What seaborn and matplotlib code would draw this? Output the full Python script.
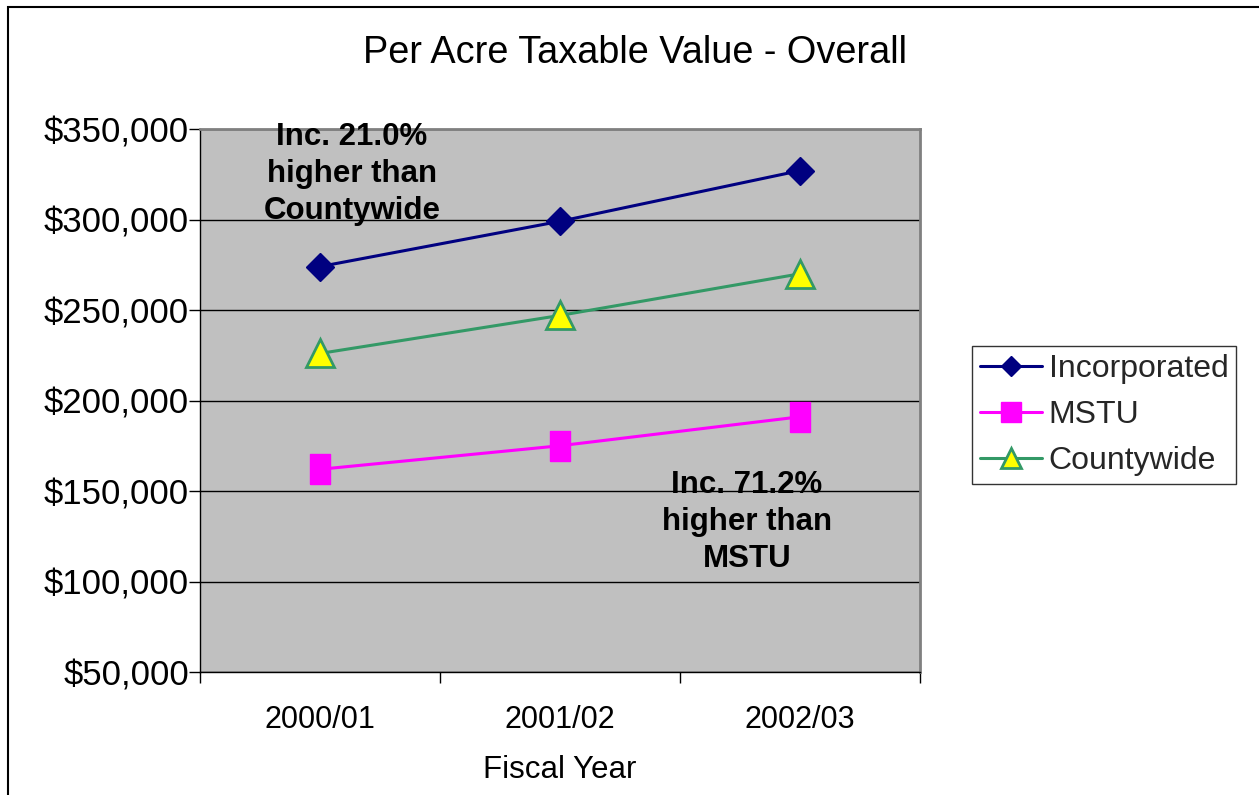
import matplotlib
matplotlib.use("Agg")
import matplotlib.pyplot as plt
from matplotlib.lines import Line2D
from matplotlib.patches import Rectangle
from matplotlib.ticker import FixedLocator, FixedFormatter, NullFormatter, FuncFormatter
import seaborn as sns

# Per-acre taxable value by fiscal year
years = ["2000/01", "2001/02", "2002/03"]
incorporated = [274000, 299000, 327000]
mstu = [162000, 175000, 191000]
countywide = [226000, 247000, 270000]
y_ticks = [50000, 100000, 150000, 200000, 250000, 300000, 350000]

sns.set_theme(style="white")
plt.rcParams["font.family"] = ["Liberation Sans", "DejaVu Sans"]

W, H = 1259, 795
fig = plt.figure(figsize=(W / 100, H / 100), dpi=100)
fig.patch.set_facecolor("white")
ax = fig.add_axes([200 / W, 1 - 672 / H, 720 / W, 543 / H])
ax.set_facecolor("#C0C0C0")

# rectangle marker, taller than wide
rect_marker = [(-0.69, -1), (0.69, -1), (0.69, 1), (-0.69, 1), (-0.69, -1)]

series = [
    ("Incorporated", incorporated,
     dict(color="#000080", marker="D", markersize=14,
          markerfacecolor="#000080", markeredgecolor="#000080", markeredgewidth=1)),
    ("MSTU", mstu,
     dict(color="#FF00FF", marker=rect_marker, markersize=21,
          markerfacecolor="#FF00FF", markeredgecolor="#FF00FF", markeredgewidth=1)),
    ("Countywide", countywide,
     dict(color="#339966", marker="^", markersize=20,
          markerfacecolor="#FFFF00", markeredgecolor="#339966", markeredgewidth=2)),
]

for name, vals, style in series:
    sns.lineplot(x=years, y=vals, ax=ax, sort=False, linewidth=2.2,
                 legend=False, zorder=3, **style)

# y axis
ax.set_ylim(y_ticks[0], y_ticks[-1])
ax.set_yticks(y_ticks)
ax.yaxis.set_major_formatter(FuncFormatter(lambda v, p: f"${v:,.0f}"))
ax.tick_params(axis="y", which="major", length=8, width=1, color="black",
               direction="out", pad=0, labelsize=25, labelcolor="black", left=True)
ax.yaxis.grid(True, color="black", linewidth=1)
ax.xaxis.grid(False)
ax.set_axisbelow(True)

# x axis: boundary ticks, centred category labels
ax.set_xlim(-0.5, len(years) - 0.5)
ax.xaxis.set_major_locator(FixedLocator([i - 0.5 for i in range(len(years) + 1)]))
ax.xaxis.set_major_formatter(NullFormatter())
ax.xaxis.set_minor_locator(FixedLocator(list(range(len(years)))))
ax.xaxis.set_minor_formatter(FixedFormatter(years))
ax.tick_params(axis="x", which="major", length=8, width=1, color="black",
               direction="out", bottom=True)
ax.tick_params(axis="x", which="minor", length=0, pad=24, labelsize=22,
               labelcolor="black", bottom=True)
ax.set_xlabel("Fiscal Year", fontsize=22.5, color="black", labelpad=14.5)
ax.set_ylabel("")

for side in ("top", "right"):
    ax.spines[side].set_color("#808080")
    ax.spines[side].set_linewidth(2)
for side in ("left", "bottom"):
    ax.spines[side].set_color("black")
    ax.spines[side].set_linewidth(1)

# annotations
ax.text(0.133, 325000, "Inc. 21.0%\nhigher than\nCountywide", ha="center",
        va="center", fontsize=22.5, fontweight="bold", color="black",
        linespacing=1.3, zorder=4)
ax.text(1.779, 133000, "Inc. 71.2%\nhigher than\nMSTU", ha="center",
        va="center", fontsize=22.5, fontweight="bold", color="black",
        linespacing=1.3, zorder=4)

# title
fig.text(635 / W, 1 - 53 / H, "Per Acre Taxable Value - Overall", ha="center",
         va="center", fontsize=27.3, color="black")

# legend
handles = [
    Line2D([], [], color="#000080", lw=2.2, marker="D", markersize=10,
           markerfacecolor="#000080", markeredgecolor="#000080"),
    Line2D([], [], color="#FF00FF", lw=2.2, marker="s", markersize=15,
           markerfacecolor="#FF00FF", markeredgecolor="#FF00FF"),
    Line2D([], [], color="#339966", lw=2.2, marker="^", markersize=15,
           markerfacecolor="#FFFF00", markeredgecolor="#339966", markeredgewidth=2),
]
leg = fig.legend(handles, [s[0] for s in series], loc="center left",
                 bbox_to_anchor=(972 / W, 1 - 415 / H), fontsize=23,
                 frameon=True, fancybox=False, edgecolor="black",
                 handlelength=1.95, handletextpad=0.2, labelspacing=0.5,
                 borderpad=0.25, borderaxespad=0)
leg.get_frame().set_linewidth(1)
leg.get_frame().set_facecolor("white")

# outer chart border
fig.add_artist(Rectangle((8 / W, -0.1), 1.2, 1 - 7 / H + 0.1,
                         transform=fig.transFigure, fill=False,
                         edgecolor="black", linewidth=1.5))

fig.savefig("out.png", dpi=100)
